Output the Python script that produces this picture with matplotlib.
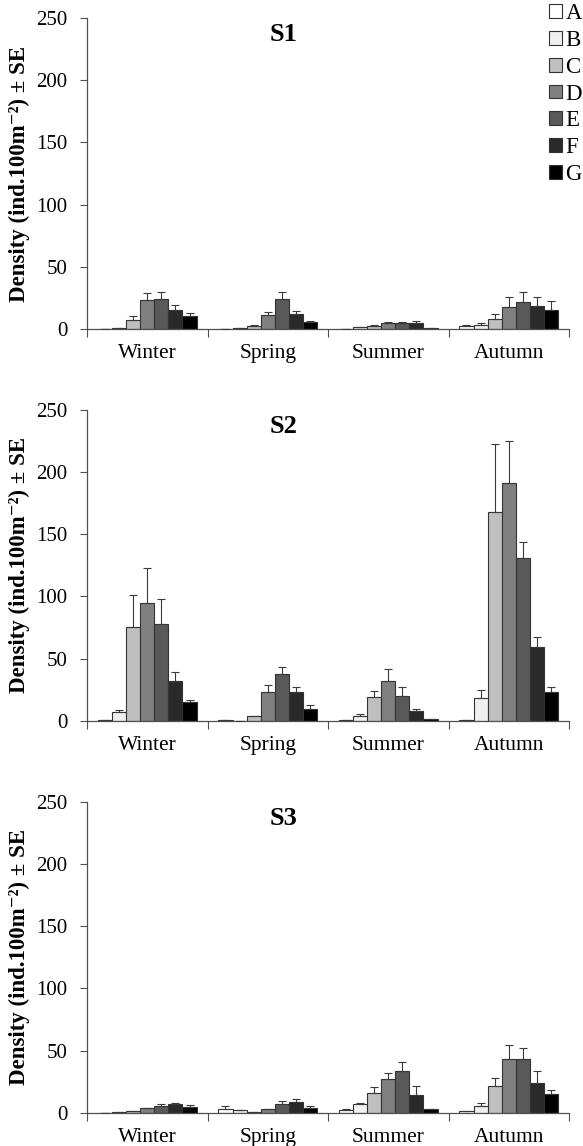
import matplotlib
matplotlib.use("Agg")
import matplotlib.pyplot as plt
from matplotlib.patches import Patch
import numpy as np

plt.rcParams['font.family'] = ['Liberation Serif', 'DejaVu Serif']

seasons = ["Winter", "Spring", "Summer", "Autumn"]
groups = ["A", "B", "C", "D", "E", "F", "G"]
colors = ["#ffffff", "#f0f0f0", "#bfbfbf", "#808080", "#595959", "#2a2a2a", "#000000"]
yticks = [0, 50, 100, 150, 200, 250]
sites = ["S1", "S2", "S3"]

# rows: groups A..G ; columns: Winter, Spring, Summer, Autumn
s1_mean = [[0.0, 0.3, 0.0, 2.1],
           [0.5, 0.5, 1.3, 3.2],
           [7.2, 2.4, 2.4, 8.0],
           [23.3, 11.2, 4.8, 17.4],
           [24.1, 23.8, 4.8, 21.4],
           [15.0, 12.0, 4.8, 18.4],
           [10.2, 5.3, 0.5, 15.0]]
s1_se = [[0.0, 0.0, 0.0, 1.1],
         [0.0, 0.0, 0.3, 1.3],
         [3.2, 0.8, 0.5, 3.8],
         [5.3, 2.2, 0.6, 8.6],
         [5.9, 5.6, 0.6, 8.6],
         [4.0, 2.7, 1.6, 7.6],
         [2.9, 1.4, 0.3, 7.5]]

s2_mean = [[0.5, 0.3, 0.3, 0.3],
           [7.0, 0.0, 3.5, 18.0],
           [75.6, 3.5, 19.3, 167.8],
           [94.6, 23.3, 32.2, 191.2],
           [77.5, 37.3, 19.8, 130.8],
           [32.2, 23.3, 7.8, 59.2],
           [15.3, 9.7, 1.3, 23.3]]
s2_se = [[0.0, 0.0, 0.0, 0.0],
         [1.8, 0.0, 1.6, 6.7],
         [25.2, 0.6, 4.8, 54.5],
         [27.9, 5.1, 9.1, 33.5],
         [20.5, 6.1, 7.0, 13.2],
         [6.9, 4.0, 1.9, 8.4],
         [1.6, 2.6, 0.0, 3.5]]

s3_mean = [[0.0, 3.2, 2.4, 1.3],
           [0.5, 1.9, 6.6, 5.0],
           [1.3, 0.8, 16.0, 21.3],
           [3.5, 2.7, 26.9, 43.6],
           [5.3, 6.9, 33.8, 43.6],
           [6.6, 8.8, 14.6, 24.2],
           [4.5, 4.0, 2.7, 15.4]]
s3_se = [[0.0, 1.8, 0.8, 0.0],
         [0.0, 0.5, 1.4, 3.0],
         [0.0, 0.0, 5.0, 6.9],
         [0.5, 0.5, 5.0, 11.2],
         [1.3, 2.4, 7.2, 8.8],
         [1.4, 2.1, 6.9, 9.0],
         [1.4, 1.0, 0.5, 3.2]]

means = [s1_mean, s2_mean, s3_mean]
ses = [s1_se, s2_se, s3_se]

W, H = 583, 1146
fig = plt.figure(figsize=(W / 100, H / 100), dpi=100)

panel_px = [(18, 329), (410, 720.7), (802, 1112.7)]
left_px, right_px = 87, 569
bw = 0.117
x = np.arange(len(seasons))
spine_col = "#505050"

for k, (top, bot) in enumerate(panel_px):
    ax = fig.add_axes([left_px / W, 1 - bot / H, (right_px - left_px) / W, (bot - top) / H])
    for i, g in enumerate(groups):
        pos = x + (i - 3) * bw
        m = np.array(means[k][i])
        s = np.array(ses[k][i])
        ax.bar(pos, m, width=bw, color=colors[i], edgecolor="#333333", linewidth=0.8, zorder=2)
        ax.errorbar(pos, m, yerr=[np.zeros_like(s), s], fmt="none", ecolor="#3a3a3a",
                    elinewidth=0.8, capsize=3, capthick=0.8, zorder=3)
    ax.set_xlim(-0.5, 3.5)
    ax.set_ylim(0, 250)
    ax.set_yticks(yticks)
    ax.set_yticklabels([str(t) for t in yticks], fontsize=15)
    ax.set_xticks(np.arange(-0.5, 4.0, 1.0))
    ax.set_xticklabels([])
    ax.set_xticks(x, minor=True)
    ax.set_xticklabels(seasons, minor=True, fontsize=15.5)
    ax.tick_params(axis="x", which="minor", length=0, pad=11)
    ax.tick_params(axis="x", which="major", length=6, width=0.8, color=spine_col, direction="out")
    ax.tick_params(axis="y", length=5, width=0.8, color=spine_col, direction="out", pad=9)
    for sp in ["top", "right"]:
        ax.spines[sp].set_visible(False)
    for sp in ["left", "bottom"]:
        ax.spines[sp].set_color(spine_col)
        ax.spines[sp].set_linewidth(0.9)
    ax.set_ylabel("Density (ind.100m\u207b\u00b2) \u00b1 SE", fontsize=16.5, fontweight="bold")
    ax.yaxis.set_label_coords(-0.118, 0.5)
    ax.text(0.407, 0.985, sites[k], transform=ax.transAxes, ha="center", va="top",
            fontsize=19, fontweight="bold")

handles = [Patch(facecolor=c, edgecolor="#333333", linewidth=0.8, label=g) for g, c in zip(groups, colors)]
fig.legend(handles=handles, loc="upper right", bbox_to_anchor=(1.0, 0.998), frameon=False,
           fontsize=16.5, handlelength=0.55, handleheight=0.55, handletextpad=0.15,
           labelspacing=0.25, borderaxespad=0.0, borderpad=0.05)

fig.savefig("out.png", dpi=100)
